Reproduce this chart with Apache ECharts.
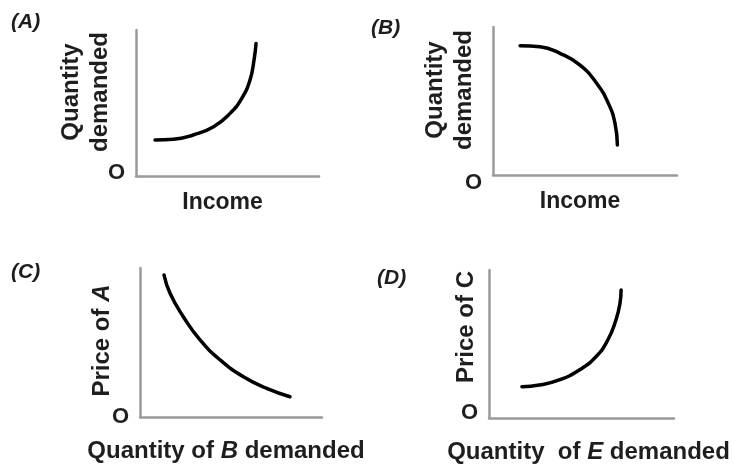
<!DOCTYPE html>
<html><head><meta charset="utf-8">
<script src="https://cdn.jsdelivr.net/npm/echarts@6/dist/echarts.min.js"></script>
<style>html,body{margin:0;padding:0;background:#fff}#c{width:733px;height:465px}</style>
</head><body><div id="c"></div>
<script>
const panelLabels = ['(A)', '(B)', '(C)', '(D)'];
const xNames = ['Income', 'Income', '{n|Quantity of }{i|B}{n| demanded}', '{n|Quantity  of }{i|E}{n| demanded}'];
const yNames = ['Quantity\ndemanded', 'Quantity\ndemanded', '{n|Price of }{i|A}', '{n|Price of C}'];
const originLabel = 'O';
// curves on a 0-10 scale in each panel
const curveA = [[1.04,2.47],[2.04,2.51],[3.13,2.81],[4.24,3.38],[5.14,4.29],[5.78,5.32],[6.23,6.58],[6.45,7.95],[6.56,9.08]];
const curveB = [[1.47,8.74],[2.55,8.67],[3.64,8.22],[4.73,7.43],[5.63,6.20],[6.27,4.84],[6.63,3.49],[6.76,2.03]];
const curveC = [[1.32,9.53],[1.65,8.30],[2.38,6.73],[3.30,5.17],[4.40,3.83],[5.68,2.70],[6.96,1.92],[8.24,1.36]];
const curveD = [[1.78,2.11],[2.72,2.23],[3.80,2.57],[4.88,3.24],[5.78,4.14],[6.42,5.27],[6.86,6.62],[7.08,7.75],[7.14,8.65]];
const curves = [curveA, curveB, curveC, curveD];

const FONT = 'Liberation Sans, Arial, sans-serif';
const TXT = '#1e1e1e';
const AX = '#9a9a9a';

const grids = [
  {left:136, top:30, width:183, height:146},
  {left:493, top:27, width:184, height:148},
  {left:140, top:268, width:182, height:149},
  {left:489, top:270, width:185, height:148}
];
const xGap = [15, 15, 22, 22];
const xPad = [[0,10,0,0],[0,10,0,0],[0,10,0,0],[0,0,0,14]];
const yGap = [21, 14, 23, 8];
const yPad = [[0,0,0,22],[0,0,0,22],[0,0,0,4],[0,0,0,34]];
const oAlign = [
  {verticalAlign: 'bottom', lineHeight: 6},
  {verticalAlign: 'top', lineHeight: 16},
  {verticalAlign: 'middle', lineHeight: 22},
  {verticalAlign: 'bottom', lineHeight: 10}
];

const rich = {
  n: {fontFamily: FONT, fontWeight: 'bold', fontSize: 24, color: TXT},
  i: {fontFamily: FONT, fontWeight: 'bold', fontStyle: 'italic', fontSize: 24, color: TXT}
};
const richY = {
  n: {fontFamily: FONT, fontWeight: 'bold', fontSize: 24, color: TXT},
  i: {fontFamily: FONT, fontWeight: 'bold', fontStyle: 'italic', fontSize: 24, color: TXT}
};

const option = {
  backgroundColor: '#fff',
  animation: false,
  title: panelLabels.map((t, k) => ({
    text: t,
    left: [11, 371, 11, 377][k],
    top: [12, 18, 262, 268][k],
    padding: 0,
    textStyle: {fontFamily: FONT, fontStyle: 'italic', fontWeight: 'bold', fontSize: 21, color: TXT}
  })),
  grid: grids.map(g => Object.assign({outerBoundsMode: 'none'}, g)),
  xAxis: grids.map((g, k) => ({
    type: 'value', gridIndex: k, min: 0, max: 10,
    axisLine: {show: true, onZero: false, lineStyle: {color: AX, width: 2.5}},
    axisTick: {show: false}, splitLine: {show: false}, axisLabel: {show: false},
    name: xNames[k], nameLocation: 'middle', nameGap: xGap[k], nameMoveOverlap: false,
    nameTextStyle: {fontFamily: FONT, fontWeight: 'bold', fontSize: 23, color: TXT, padding: xPad[k], rich: rich}
  })),
  yAxis: grids.map((g, k) => ({
    type: 'value', gridIndex: k, min: 0, max: 10, interval: 10,
    axisLine: {show: true, onZero: false, lineStyle: {color: AX, width: 2.5}},
    axisTick: {show: false}, splitLine: {show: false},
    axisLabel: Object.assign({show: true, margin: 11, fontFamily: FONT, fontWeight: 'bold', fontSize: 22, color: TXT,
      formatter: v => v === 0 ? originLabel : ''}, oAlign[k]),
    name: yNames[k], nameLocation: 'middle', nameGap: yGap[k], nameMoveOverlap: false,
    nameTextStyle: {fontFamily: FONT, fontWeight: 'bold', fontSize: 24, lineHeight: 29, color: TXT, padding: yPad[k], rich: richY}
  })),
  series: curves.map((c, k) => ({
    type: 'line', xAxisIndex: k, yAxisIndex: k, data: c,
    smooth: 0.5, showSymbol: false, silent: true,
    lineStyle: {color: '#000', width: 3.5, cap: 'round'}
  }))
};
const chart = echarts.init(document.getElementById('c'), null, {renderer: 'canvas'});
chart.setOption(option);
</script></body></html>
